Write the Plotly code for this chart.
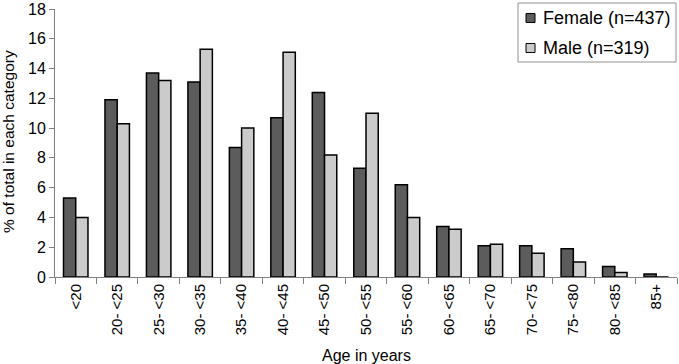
import plotly.graph_objects as go

categories = ["<20", "20- <25", "25- <30", "30- <35", "35- <40", "40- <45", "45- <50",
              "50- <55", "55- <60", "60- <65", "65- <70", "70- <75", "75- <80", "80- <85", "85+"]
female = [5.3, 11.9, 13.7, 13.1, 8.7, 10.7, 12.4, 7.3, 6.2, 3.4, 2.1, 2.1, 1.9, 0.7, 0.2]
male = [4.0, 10.3, 13.2, 15.3, 10.0, 15.1, 8.2, 11.0, 4.0, 3.2, 2.2, 1.6, 1.0, 0.3, 0.0]
y_ticks = [0, 2, 4, 6, 8, 10, 12, 14, 16, 18]
series_names = ["Female (n=437)", "Male (n=319)"]
series_colors = ["#5c5c5c", "#cbcbcb"]

font_family = "Liberation Sans, Arial, sans-serif"

W, H = 679, 364
ML, MR, MT, MB = 55, 2, 9, 87
PW, PH = W - ML - MR, H - MT - MB


def px(x):
    return (x - ML) / PW


def py(y):
    return (H - MB - y) / PH


fig = go.Figure()
for name, vals, col in zip(series_names, [female, male], series_colors):
    fig.add_trace(go.Bar(x=categories, y=vals, name=name,
                         marker=dict(color=col, line=dict(color="black", width=1.5))))

# legend drawn as box + swatches + text
shapes = [dict(type="rect", xref="paper", yref="paper",
               x0=px(518), x1=px(676), y0=py(62), y1=py(3),
               line=dict(color="#909090", width=1), fillcolor="white", layer="above")]
annotations = []
for i, (name, col) in enumerate(zip(series_names, series_colors)):
    cy = 18 + 30 * i
    shapes.append(dict(type="rect", xref="paper", yref="paper",
                       x0=px(526), x1=px(535), y0=py(cy + 4.5), y1=py(cy - 4.5),
                       line=dict(color="black", width=1), fillcolor=col, layer="above"))
    annotations.append(dict(text=name, xref="paper", yref="paper", x=px(541), y=py(cy),
                            xanchor="left", yanchor="middle", showarrow=False,
                            font=dict(size=18, color="black")))

# axis titles
annotations.append(dict(text="% of total in each category", xref="paper", yref="paper",
                        x=px(8), y=py(142), xanchor="center", yanchor="middle",
                        textangle=-90, showarrow=False, font=dict(size=15.5)))
annotations.append(dict(text="Age in years", xref="paper", yref="paper",
                        x=px(366), y=py(355), xanchor="center", yanchor="middle",
                        showarrow=False, font=dict(size=16)))

fig.update_layout(
    width=W, height=H,
    margin=dict(l=ML, r=MR, t=MT, b=MB),
    plot_bgcolor="white", paper_bgcolor="white",
    barmode="group", bargap=0.41, bargroupgap=0.0,
    font=dict(family=font_family, size=15, color="black"),
    showlegend=False,
    shapes=shapes, annotations=annotations,
    xaxis=dict(
        type="category", tickangle=-90, showline=True, linecolor="#808080", linewidth=1,
        ticks="outside", ticklen=6, tickcolor="#808080", tickson="boundaries",
        showgrid=False, tickfont=dict(size=15), automargin=False,
    ),
    yaxis=dict(
        range=[0, 18], tickvals=y_ticks, showline=True, linecolor="#808080", linewidth=1,
        ticks="outside", ticklen=5, tickcolor="#808080", showgrid=False, zeroline=False,
        tickfont=dict(size=16), automargin=False, ticklabeloverflow="allow",
    ),
)

fig.write_html("out.html", config={"displayModeBar": False},
               post_script="document.body.style.margin='0px';")
